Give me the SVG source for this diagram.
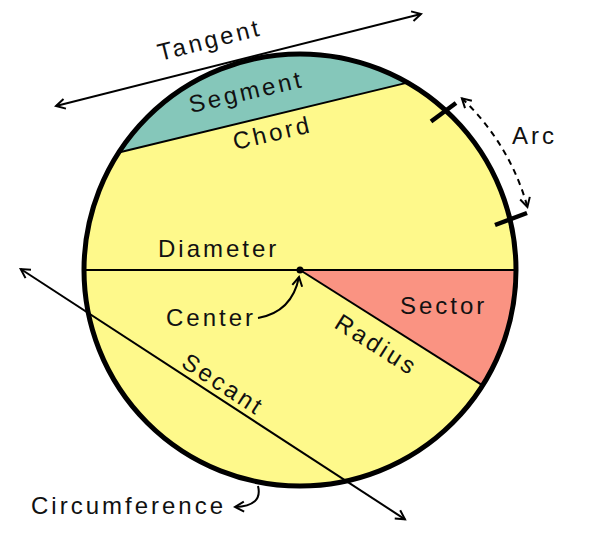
<svg xmlns="http://www.w3.org/2000/svg" width="599" height="536" viewBox="0 0 599 536">
<style>
text{font-family:"Liberation Sans",Arial,sans-serif;font-size:24px;letter-spacing:3px;fill:#111}
.ln{stroke:#000;stroke-width:2;fill:none}
.tick{stroke:#000;stroke-width:4.5;fill:none}
</style>
<defs>
<marker id="arr" viewBox="-12 -7 14 14" markerWidth="14" markerHeight="14" refX="0" refY="0" orient="auto-start-reverse" markerUnits="userSpaceOnUse">
<path d="M-9,-5 L0,0 L-9,5" fill="none" stroke="#000" stroke-width="2"/>
</marker>
</defs>
<g id="circle-fill">
<circle cx="300" cy="270" r="216" fill="#FEF98B"/>
<path id="segment" d="M118.7,152.5 A216,216 0 0 1 407.5,82.6 Z" fill="#85C7BA"/>
<path id="sector" d="M300,270 L516,270 A216,216 0 0 1 482.5,385.4 Z" fill="#FA9382"/>
</g>
<g id="connectors">
<line class="ln" x1="118.7" y1="152.5" x2="407.5" y2="82.6"/>
<line class="ln" x1="84" y1="270" x2="516" y2="270"/>
<line class="ln" x1="300" y1="270" x2="482.5" y2="385.4"/>
<line class="ln" x1="20.7" y1="269" x2="405" y2="519.3" marker-start="url(#arr)" marker-end="url(#arr)"/>
<line class="ln" x1="56" y1="106" x2="421" y2="14" marker-start="url(#arr)" marker-end="url(#arr)"/>
<path class="ln" d="M461.9,98.3 A236,236 0 0 1 527.4,206.9" stroke-dasharray="6,5" marker-start="url(#arr)" marker-end="url(#arr)"/>
<path class="ln" d="M258,318 Q292,312 299,277" marker-end="url(#arr)"/>
<path class="ln" d="M258,486 Q263,506 235,507" marker-end="url(#arr)"/>
</g>
<g id="circle-outline">
<circle cx="300" cy="270" r="216" fill="none" stroke="#000" stroke-width="5"/>
<circle cx="300" cy="270" r="3.5" fill="#000"/>
<line class="tick" x1="431" y1="121.5" x2="456" y2="103"/>
<line class="tick" x1="495" y1="225" x2="527" y2="213"/>
</g>
<g id="labels">
<text transform="translate(160,61) rotate(-14.15)">Tangent</text>
<text transform="translate(191,113) rotate(-13)">Segment</text>
<text transform="translate(235,150) rotate(-13)">Chord</text>
<text x="512" y="144">Arc</text>
<text x="158" y="257">Diameter</text>
<text x="166" y="326">Center</text>
<text x="400" y="314">Sector</text>
<text transform="translate(333,327) rotate(32.3)">Radius</text>
<text transform="translate(180,366) rotate(33.08)">Secant</text>
<text x="31" y="514">Circumference</text>
</g>
</svg>
